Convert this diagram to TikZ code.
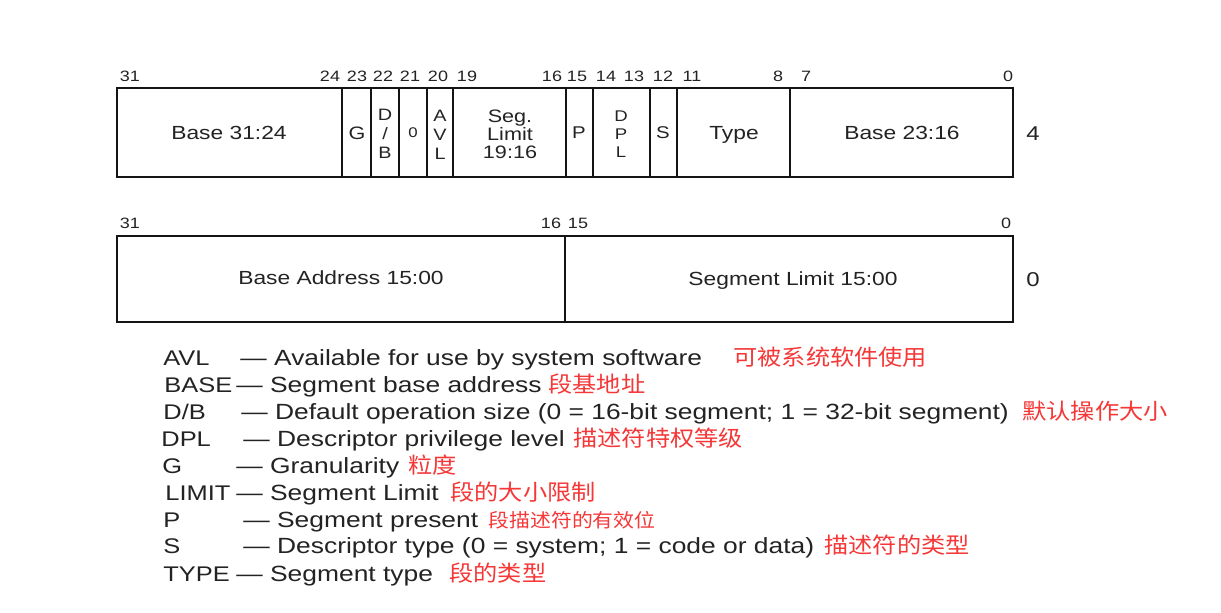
\documentclass[tikz,border=0pt]{standalone}
\usepackage{fontspec}
\setmainfont{Liberation Sans}[FakeStretch=1.2]
\newfontfamily\cjk{Noto Sans CJK SC}[FakeStretch=1.1]
\definecolor{txt}{RGB}{35,35,35}
\definecolor{cnred}{RGB}{245,55,55}
\definecolor{rulec}{RGB}{20,20,20}
\begin{document}
\begin{tikzpicture}[x=0.5pt,y=-0.5pt,
  outer/.style={draw=rulec,line width=1.4pt},
  thickdiv/.style={draw=rulec,line width=1.2pt},
  thindiv/.style={draw=rulec,line width=0.6pt},
  bitnum/.style={font=\fontsize{7.5}{8}\selectfont,text=txt,inner sep=0pt,anchor=base},
  fld/.style={font=\fontsize{9.5}{11}\selectfont,text=txt,inner sep=0pt,align=center},
  vfld/.style={font=\fontsize{8.25}{9.5}\selectfont,text=txt,inner sep=0pt,align=center},
  rowno/.style={font=\fontsize{10}{11}\selectfont,text=txt,inner sep=0pt},
  key/.style={font=\fontsize{10.6}{13}\selectfont,text=txt,inner sep=0pt,anchor=base west},
  desc/.style={font=\fontsize{11}{13}\selectfont,text=txt,inner sep=0pt,anchor=base west},
  cn/.style={font=\cjk\fontsize{11}{13}\selectfont,text=cnred,inner sep=0pt,anchor=base west},
  cnsmall/.style={font=\cjk\fontsize{9.5}{11}\selectfont,text=cnred,inner sep=0pt,anchor=base west}]
\useasboundingbox (0,0) rectangle (1221,612);
\fill[white] (0,0) rectangle (1221,612);

% ---------- upper doubleword (offset 4) ----------
\draw[outer] (117,88) rectangle (1013,177);
\foreach \xx in {342,371,399,427,566,677,790}
  \draw[thickdiv] (\xx,88) -- (\xx,177);
\foreach \xx in {453,593,650}
  \draw[thindiv] (\xx,88) -- (\xx,177);

\node[fld] (b3124) at (229,133) {Base 31:24};
\node[fld,font=\fontsize{9}{10}\selectfont] (g) at (357,133) {G};
\node[vfld] (db) at (385,134) {D\\/\\B};
\node[fld,font=\fontsize{7}{8}\selectfont] (zero) at (413,133) {0};
\node[vfld] (avl) at (440,135) {A\\V\\L};
\node[fld,font=\fontsize{9}{9}\selectfont] (seglim) at (510,134) {Seg.\\Limit\\19:16};
\node[fld,font=\fontsize{8.5}{9}\selectfont] (p) at (579,133) {P};
\node[vfld,font=\fontsize{7.75}{9}\selectfont] (dpl) at (621,134) {D\\P\\L};
\node[fld,font=\fontsize{8.5}{9}\selectfont] (s) at (663,133) {S};
\node[fld] (type) at (734,135) {Type};
\node[fld] (b2316) at (902,133) {Base 23:16};
\node[rowno] (r4) at (1033,134) {4};

\node[bitnum] (n31a) at (130,81) {31};
\node[bitnum] (n24) at (330,81) {24};
\node[bitnum] (n23) at (357,81) {23};
\node[bitnum] (n22) at (383,81) {22};
\node[bitnum] (n21) at (410,81) {21};
\node[bitnum] (n20) at (438,81) {20};
\node[bitnum] (n19) at (467,81) {19};
\node[bitnum] (n16a) at (552,81) {16};
\node[bitnum] (n15a) at (577,81) {15};
\node[bitnum] (n14) at (606,81) {14};
\node[bitnum] (n13) at (634,81) {13};
\node[bitnum] (n12) at (663,81) {12};
\node[bitnum] (n11) at (692,81) {11};
\node[bitnum] (n8) at (778,81) {8};
\node[bitnum] (n7) at (806,81) {7};
\node[bitnum] (n0a) at (1008,81) {0};

% ---------- lower doubleword (offset 0) ----------
\draw[outer] (117,236) rectangle (1013,322);
\draw[thickdiv] (565,236) -- (565,322);
\node[fld] (baddr) at (341,278) {Base Address 15:00};
\node[fld] (slim) at (793,281) {Segment Limit 15:00};
\node[rowno] (r0) at (1033,280) {0};

\node[bitnum] (n31b) at (130,228) {31};
\node[bitnum] (n16b) at (551,228) {16};
\node[bitnum] (n15b) at (578,228) {15};
\node[bitnum] (n0b) at (1006,228) {0};

% ---------- legend ----------
\node[key] (kavl) at (163,365) {AVL};
\node[desc] (davl) at (240,365) {— Available for use by system software};
\node[cn] (cavl) at (733,365) {可被系统软件使用};

\node[key] (kbase) at (164,392) {BASE};
\node[desc] (dbase) at (236,392) {— Segment base address};
\node[cn] (cbase) at (548,392) {段基地址};

\node[key] (kdb) at (163,419) {D/B};
\node[desc] (ddb) at (241,419) {— Default operation size (0 = 16-bit segment; 1 = 32-bit segment)};
\node[cn] (cdb) at (1022,419) {默认操作大小};

\node[key] (kdpl) at (161,446) {DPL};
\node[desc] (ddpl) at (243,446) {— Descriptor privilege level};
\node[cn] (cdpl) at (573,446) {描述符特权等级};

\node[key] (kg) at (162,473) {G};
\node[desc] (dg) at (236,473) {— Granularity};
\node[cn] (cg) at (408,473) {粒度};

\node[key] (klim) at (165,500) {LIMIT};
\node[desc] (dlim) at (236,500) {— Segment Limit};
\node[cn] (clim) at (450,500) {段的大小限制};

\node[key] (kp) at (163,527) {P};
\node[desc] (dp) at (243,527) {— Segment present};
\node[cnsmall] (cp) at (488,527) {段描述符的有效位};

\node[key] (ks) at (163,553) {S};
\node[desc] (ds) at (243,553) {— Descriptor type (0 = system; 1 = code or data)};
\node[cn] (cs) at (824,553) {描述符的类型};

\node[key] (ktype) at (163,581) {TYPE};
\node[desc] (dtype) at (236,581) {— Segment type};
\node[cn] (ctype) at (449,581) {段的类型};
\end{tikzpicture}
\end{document}
